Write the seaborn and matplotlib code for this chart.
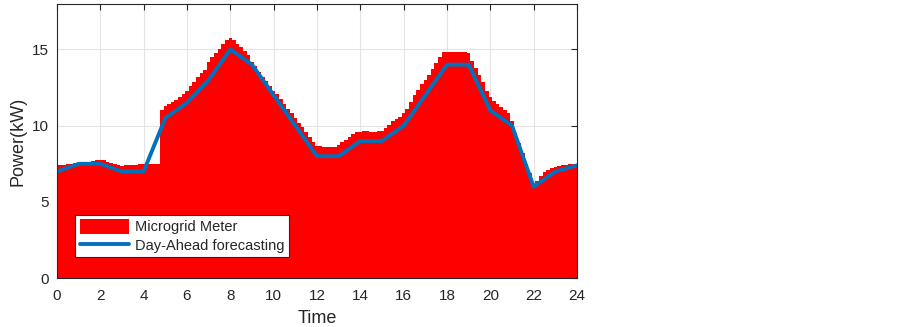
from matplotlib import pyplot as plt
from matplotlib.patches import Patch
from matplotlib.lines import Line2D
import pandas as pd
import seaborn as sns
import numpy as np

# day-ahead forecast, hourly
hours = list(range(25))
forecast = [7.0, 7.5, 7.5, 7.0, 7.0, 10.5, 11.5, 13.0, 15.0, 14.0, 12.0, 10.0,
            8.0, 8.0, 9.0, 9.0, 10.0, 12.0, 14.0, 14.0, 11.0, 10.0, 6.0, 7.0, 7.4]

# microgrid meter, 10 minute readings (one row per hour)
meter_rows = [
    [7.40, 7.42, 7.45, 7.48, 7.50, 7.53],
    [7.56, 7.59, 7.62, 7.65, 7.68, 7.72],
    [7.78, 7.72, 7.65, 7.58, 7.50, 7.42],
    [7.38, 7.40, 7.42, 7.44, 7.45, 7.47],
    [7.48, 7.50, 7.50, 7.50, 7.52, 11.05],
    [11.30, 11.40, 11.55, 11.70, 11.85, 12.10],
    [12.30, 12.60, 12.85, 13.20, 13.45, 13.65],
    [14.20, 14.50, 14.75, 15.00, 15.35, 15.60],
    [15.75, 15.60, 15.35, 15.15, 14.90, 14.60],
    [14.20, 13.90, 13.55, 13.20, 12.90, 12.60],
    [12.30, 12.05, 11.75, 11.45, 11.10, 10.80],
    [10.50, 10.20, 9.90, 9.60, 9.25, 8.90],
    [8.65, 8.65, 8.60, 8.60, 8.60, 8.60],
    [8.75, 8.90, 9.05, 9.25, 9.45, 9.60],
    [9.60, 9.62, 9.62, 9.60, 9.60, 9.62],
    [9.65, 9.85, 10.05, 10.30, 10.45, 10.60],
    [10.80, 11.10, 11.55, 12.00, 12.35, 12.70],
    [13.00, 13.35, 13.70, 14.10, 14.50, 14.80],
    [14.85, 14.85, 14.85, 14.85, 14.85, 14.85],
    [14.75, 14.25, 13.75, 13.30, 12.85, 12.30],
    [11.85, 11.60, 11.40, 11.20, 11.05, 10.85],
    [10.30, 9.55, 8.85, 8.20, 7.50, 6.90],
    [6.10, 6.40, 6.70, 6.95, 7.10, 7.20],
    [7.30, 7.35, 7.40, 7.45, 7.47, 7.48],
]
meter_last = 7.48

meter = [v for row in meter_rows for v in row] + [meter_last]
meter_time = [k / 6 for k in range(len(meter))]

df_meter = pd.DataFrame({"time": meter_time, "power": meter})
df_fc = pd.DataFrame({"time": hours, "power": forecast})

sns.set_style("white")
plt.rcParams['font.family'] = ['Liberation Sans', 'DejaVu Sans']

fig = plt.figure(figsize=(9.03, 3.27), dpi=100)
ax = fig.add_axes([0.0631, 0.149, 0.5759, 0.840])

sns.barplot(data=df_meter, x="time", y="power", native_scale=True, width=1.0,
            color="#ff0000", saturation=1, linewidth=0, errorbar=None, ax=ax)
sns.lineplot(data=df_fc, x="time", y="power", color="#0072BD", linewidth=2.8,
             ax=ax)

ax.set_xlim(0, 24)
ax.set_ylim(0, 18)
ax.set_xticks(range(0, 25, 2))
ax.set_yticks([0, 5, 10, 15])
ax.set_axisbelow(True)
ax.grid(True, color="#e3e3e3", linewidth=0.8)
ax.tick_params(direction="in", top=True, right=True, length=4, width=0.8,
               colors="#262626", labelsize=11, labelcolor="#262626")
ax.tick_params(axis="x", pad=8)
ax.tick_params(axis="y", pad=6)
for s in ax.spines.values():
    s.set_color("#262626")
    s.set_linewidth(0.8)
    s.set_visible(True)

ax.set_xlabel("Time", fontsize=13, color="#262626", labelpad=5)
ax.set_ylabel("Power(kW)", fontsize=13, color="#262626", labelpad=4)

handles = [Patch(facecolor="#ff0000", edgecolor="none"),
           Line2D([0], [0], color="#0072BD", linewidth=2.8)]
leg = ax.legend(handles, ["Microgrid Meter", "Day-Ahead forecasting"],
                loc="lower left", bbox_to_anchor=(0.035, 0.077),
                borderaxespad=0, fontsize=10.5, handlelength=3.4,
                handleheight=1.2, handletextpad=0.4, labelspacing=0.2,
                borderpad=0.3, fancybox=False, framealpha=1)
leg.get_frame().set_edgecolor("#262626")
leg.get_frame().set_linewidth(0.8)

fig.savefig("out.png", dpi=100)
